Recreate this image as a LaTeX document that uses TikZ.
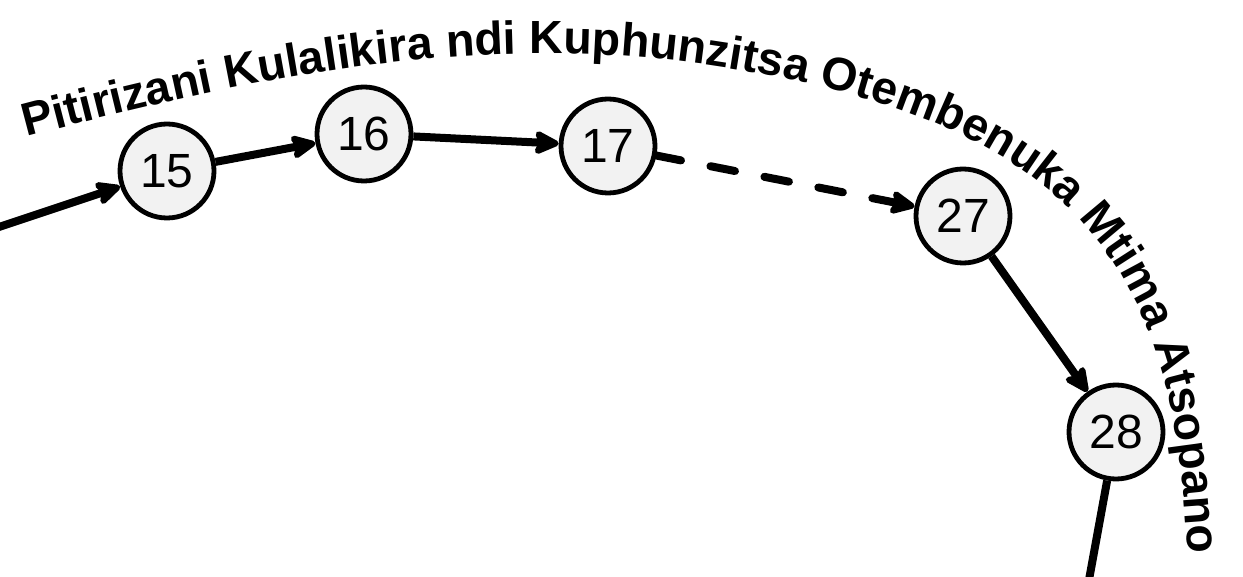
\documentclass[tikz,border=0pt]{standalone}
\usepackage{fontspec}
\setmainfont{Liberation Sans}
\usetikzlibrary{arrows.meta,decorations.text}
\definecolor{nodefill}{HTML}{F2F2F2}
\begin{document}
\begin{tikzpicture}[x=0.5pt,y=-0.5pt,
  nd/.style={circle,draw=black,line width=2.4pt,fill=nodefill,minimum size=47pt,inner sep=0pt,
    font=\fontsize{24}{24}\selectfont},
  ed/.style={line width=4pt,-{Stealth[length=15pt,width=14pt,inset=3pt,round]}},
  dashedge/.style={ed,dash pattern=on 12.5pt off 15pt,line cap=round},
  plainedge/.style={line width=4pt},
]
\useasboundingbox (0,0) rectangle (1243,577);
\clip (0,0) rectangle (1243,577);

\node[nd] (n15) at (167,171) {15};
\node[nd] (n16) at (364,134) {16};
\node[nd] (n17) at (608,146) {17};
\node[nd] (n27) at (963,216) {27};
\node[nd] (n28) at (1116,432) {28};
\coordinate (c14) at (-40,240);
\coordinate (c29) at (1078,640);

\draw[ed] (c14) -- (n15);
\draw[ed] (n15) -- (n16);
\draw[ed] (n16) -- (n17);
\draw[dashedge] (n17) -- (n27);
\draw[ed] (n27) -- (n28);
\draw[plainedge] (n28) -- (c29);

\path[decorate,decoration={text along path,text align=left,
  text={|\fontsize{23.25}{23.25}\selectfont\bfseries|Pitirizani Kulalikira ndi Kuphunzitsa Otembenuka Mtima Atsopano}}]
  (26,137) .. controls (248,78) and (472,32) .. (700,64)
  .. controls (1076,117) and (1174,265) .. (1187,545) -- (1192,700);
\end{tikzpicture}
\end{document}
